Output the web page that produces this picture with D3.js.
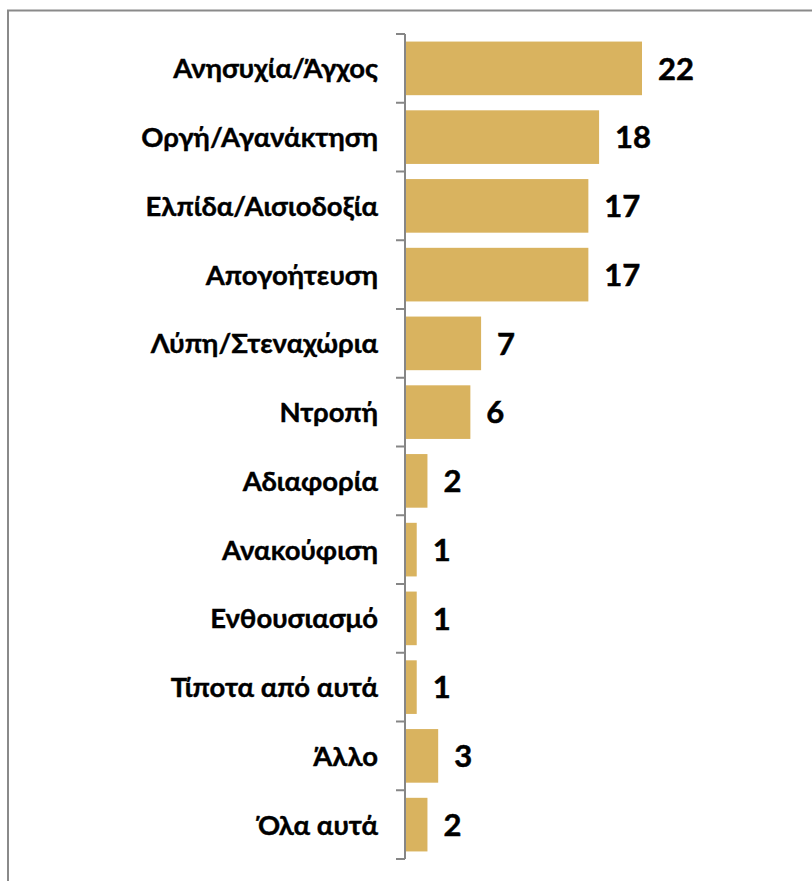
<!DOCTYPE html>
<html><head><meta charset="utf-8">
<script src="https://cdn.jsdelivr.net/npm/d3@7"></script>
<style>html,body{margin:0;padding:0;background:#fff;overflow:hidden}</style>
</head><body>
<svg id="c" width="812" height="881"></svg>
<script>
const categories = ["Ανησυχία/Άγχος","Οργή/Αγανάκτηση","Ελπίδα/Αισιοδοξία","Απογοήτευση","Λύπη/Στεναχώρια","Ντροπή","Αδιαφορία","Ανακούφιση","Ενθουσιασμό","Τίποτα από αυτά","Άλλο","Όλα αυτά"];
const values = [22,18,17,17,7,6,2,1,1,1,3,2];

const svg = d3.select("#c");
const font = "Lato, Carlito, 'Noto Sans', sans-serif";
// frame
svg.append("rect").attr("x",8).attr("y",10.5).attr("width",820).attr("height",900)
  .attr("fill","none").attr("stroke","#8a8a8a").attr("stroke-width",2);

const axisX = 405;
const y = d3.scaleBand().domain(categories).range([34, 859]).paddingInner(0.22).paddingOuter(0.11);
const x = d3.scaleLinear().domain([0, 22]).range([axisX + 1, 642]);

svg.selectAll("rect.bar").data(values).enter().append("rect").attr("class","bar")
  .attr("x", x(0)).attr("y", (d,i)=>y(categories[i]))
  .attr("width", d=>x(d)-x(0)).attr("height", y.bandwidth())
  .attr("fill","#D9B35F");

// axis with ticks at band boundaries
const bounds = d3.range(categories.length+1).map(i=>34 + i*(825/categories.length));
svg.append("line").attr("x1",axisX).attr("x2",axisX).attr("y1",bounds[0]).attr("y2",bounds[bounds.length-1])
  .attr("stroke","#868686").attr("stroke-width",2);
svg.selectAll("line.tk").data(bounds).enter().append("line").attr("class","tk")
  .attr("x1",axisX-9).attr("x2",axisX).attr("y1",d=>d).attr("y2",d=>d)
  .attr("stroke","#868686").attr("stroke-width",2);

// category labels
svg.selectAll("text.cat").data(categories).enter().append("text").attr("class","cat")
  .attr("x", 378).attr("y", d=>y(d)+y.bandwidth()/2)
  .attr("dy","0.36em").attr("text-anchor","end")
  .attr("font-family",font).attr("font-weight","bold").attr("font-size",27.5).attr("fill","#000")
  .attr("stroke","#000").attr("stroke-width",0.4)
  .text(d=>d);

// value labels
svg.selectAll("text.val").data(values).enter().append("text").attr("class","val")
  .attr("x", d=>x(d)+16).attr("y", (d,i)=>y(categories[i])+y.bandwidth()/2)
  .attr("dy","0.36em")
  .attr("font-family",font).attr("font-weight","bold").attr("font-size",31).attr("fill","#000")
  .attr("stroke","#000").attr("stroke-width",0.5)
  .text(d=>d);
</script>
</body></html>
